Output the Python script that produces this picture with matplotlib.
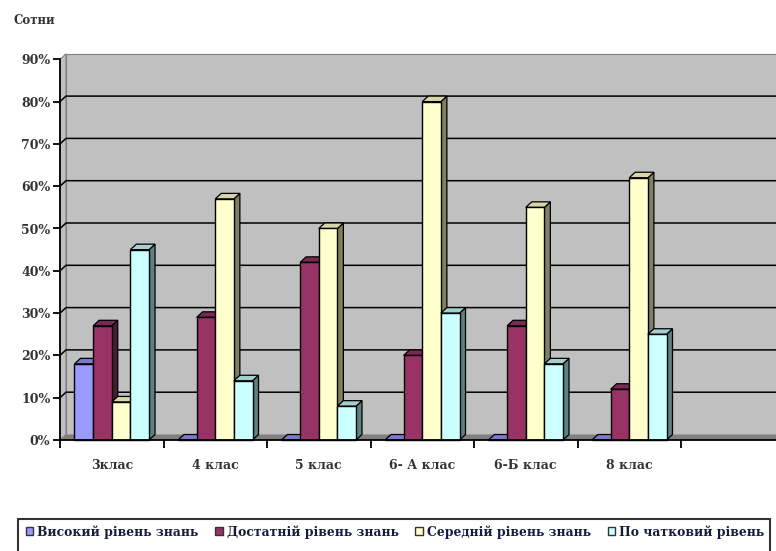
import matplotlib
matplotlib.use('Agg')
from matplotlib import pyplot as plt
from matplotlib.patches import Polygon, Rectangle, Patch
import numpy as np

# data (percent)
classes = ['3клас', '4 клас', '5 клас', '6- А клас', '6-Б клас', '8 клас']
series_names = ['Високий рівень знань', 'Достатній рівень знань',
                'Середній рівень знань', 'По чатковий рівень']
high = [18, 0, 0, 0, 0, 0]
sufficient = [27, 29, 42, 20, 27, 12]
medium = [9, 57, 50, 80, 55, 62]
initial = [45, 14, 8, 30, 18, 25]
series = [high, sufficient, medium, initial]
y_ticks = [0, 10, 20, 30, 40, 50, 60, 70, 80, 90]
n_cat = 7  # one empty category on the right

front = ['#9999ff', '#993366', '#ffffcc', '#ccffff']
side = ['#4d4d80', '#4d1a33', '#80805f', '#5f8080']
top = ['#7878cc', '#7a2952', '#d6d6a8', '#a3cfcf']

plt.rcParams['font.family'] = ['DejaVu Serif']
plt.rcParams['font.weight'] = 'bold'

W, H = 776, 551
fig = plt.figure(figsize=(W / 100, H / 100), dpi=100)

x0, x1 = 60, 60 + n_cat * 103.5
y0, y1 = 440, 59.3
ax = fig.add_axes([x0 / W, (H - y0) / H, (x1 - x0) / W, (y0 - y1) / H])
ax.set_xlim(0, n_cat)
ax.set_ylim(0, 90)
ax.patch.set_visible(False)

# 3d depth in data units
dx = 6 / 103.5
dy = 5.5 / 4.23

# walls and floor
ax.add_patch(Polygon([(0, 0), (dx, dy), (dx, 90 + dy), (0, 90)], closed=True,
                     facecolor='#c0c0c0', edgecolor='#808080', lw=0.8, clip_on=False, zorder=0.5))
ax.add_patch(Rectangle((dx, dy), n_cat + 1, 90, facecolor='#c0c0c0',
                       edgecolor='#808080', lw=0.8, clip_on=False, zorder=0.5))
for v in y_ticks[1:-1]:
    ax.plot([0, dx, n_cat + 1], [v, v + dy, v + dy], color='black', lw=1.1,
            clip_on=False, zorder=0.6)
ax.add_patch(Polygon([(0, 0), (dx, dy), (n_cat + 1, dy), (n_cat + 1, 0)], closed=True,
                     facecolor='#808080', edgecolor='none', clip_on=False, zorder=0.7))

# bars
w = 0.18
z = 2
for i in range(len(classes)):
    for k, vals in enumerate(series):
        v = vals[i]
        left = i + 0.5 - 2 * w + k * w
        ax.add_patch(Polygon([(left + w, 0), (left + w + dx, dy), (left + w + dx, v + dy), (left + w, v)],
                             closed=True, facecolor=side[k], edgecolor='black', lw=0.9,
                             clip_on=False, zorder=z))
        ax.add_patch(Polygon([(left, v), (left + dx, v + dy), (left + w + dx, v + dy), (left + w, v)],
                             closed=True, facecolor=top[k], edgecolor='black', lw=0.9,
                             clip_on=False, zorder=z))
        ax.bar(left, v, width=w, align='edge', color=front[k], edgecolor='black',
               lw=1.0, zorder=z + 0.1, clip_on=False)
        z += 0.2

for s in ['top', 'right']:
    ax.spines[s].set_visible(False)
ax.spines['left'].set_linewidth(1.3)
ax.spines['bottom'].set_linewidth(1.3)
ax.spines['left'].set_zorder(z + 1)
ax.spines['bottom'].set_zorder(z + 1)

ax.set_yticks(y_ticks)
ax.set_yticklabels([f'{v}%' for v in y_ticks], fontsize=9, color='#333333')
ax.tick_params(axis='y', direction='out', length=5, width=1.3, pad=2)

ax.set_xticks(np.arange(n_cat + 1))
ax.set_xticklabels([])
ax.tick_params(axis='x', which='major', direction='out', length=6, width=1.3)
ax.set_xticks(np.arange(len(classes)) + 0.5, minor=True)
ax.set_xticklabels(classes, minor=True, fontsize=9, color='#333333')
ax.tick_params(axis='x', which='minor', length=0, pad=14)

fig.text(13 / W, 1 - 20 / H, 'Сотни', fontsize=8.5, color='#333333', va='center', ha='left')

# legend
fig.add_artist(Rectangle((18 / W, -0.05), (770 - 18) / W, 0.05 + (H - 519) / H,
                         transform=fig.transFigure, facecolor='white', edgecolor='#333333', lw=1.5))
handles = [Patch(facecolor=front[k], edgecolor='#333333', lw=1.0) for k in range(4)]
leg = fig.legend(handles, series_names, ncol=4, loc='center', frameon=False, mode='expand',
                 bbox_to_anchor=(26 / W, (H - 540) / H, (764 - 26) / W, 16 / H), fontsize=8.9,
                 handlelength=0.6, handleheight=0.6, handletextpad=0.3,
                 columnspacing=0.75, borderpad=0, borderaxespad=0)
for t in leg.get_texts():
    t.set_color('#1a1a40')

fig.savefig('out.png', dpi=100)
